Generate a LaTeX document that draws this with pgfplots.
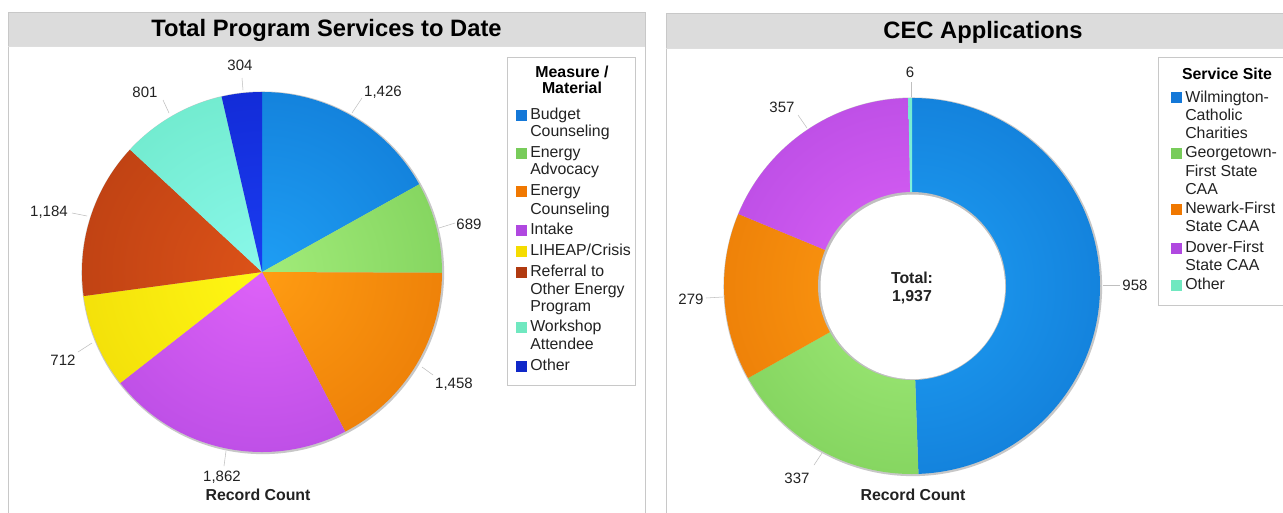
\documentclass[border=0pt]{standalone}
\usepackage{pgfplots}
\pgfplotsset{compat=1.18}
\usepackage{fontspec}
\setmainfont{Liberation Sans}

% slice colours: inner (light) / outer (dark) / legend swatch
\definecolor{bdI}{HTML}{1E9EF4}\definecolor{bdO}{HTML}{0A68C6}\definecolor{bdL}{HTML}{1478D8}
\definecolor{adI}{HTML}{A2EC7A}\definecolor{adO}{HTML}{6AC048}\definecolor{adL}{HTML}{78CC5A}
\definecolor{ecI}{HTML}{FF9C12}\definecolor{ecO}{HTML}{DE6800}\definecolor{ecL}{HTML}{F07800}
\definecolor{inI}{HTML}{DE62F8}\definecolor{inO}{HTML}{A03ED6}\definecolor{inL}{HTML}{B048E0}
\definecolor{liI}{HTML}{FFF814}\definecolor{liO}{HTML}{E8CA00}\definecolor{liL}{HTML}{F5DC00}
\definecolor{reI}{HTML}{DC5218}\definecolor{reO}{HTML}{A6340F}\definecolor{reL}{HTML}{B03A10}
\definecolor{woI}{HTML}{8AF8EA}\definecolor{woO}{HTML}{5CDFB6}\definecolor{woL}{HTML}{70E8C0}
\definecolor{otI}{HTML}{1A3CF2}\definecolor{otO}{HTML}{0C1CBE}\definecolor{otL}{HTML}{1028C8}
\definecolor{hdr}{HTML}{DCDCDC}
\definecolor{brd}{HTML}{C8C8C8}
\definecolor{txt}{HTML}{222222}

% #1 inner colour, #2 outer colour, #3 from (cumulative), #4 to (cumulative), #5 total, #6 radius
\newcommand\pieslice[6]{%
  \begin{scope}
    \clip (axis cs:0,0) -- ++({90-360*(#3/#5)}:#6) arc[start angle={90-360*(#3/#5)}, end angle={90-360*(#4/#5)}, radius=#6] -- cycle;
    \shade[inner color=#1, outer color=#2] (axis cs:0,0) circle[radius=2*#6];
  \end{scope}}

\newcommand\lab{\fontsize{11.25}{13}\selectfont\color{txt}}
\newcommand\leg{\fontsize{11.9}{13}\selectfont\color{txt}}
\newcommand\bld{\bfseries\fontsize{11.9}{13}\selectfont}

\begin{document}
\begin{tikzpicture}[x=0.75pt,y=-0.75pt]
\useasboundingbox (0,0) rectangle (1283,512);
\clip (0,0) rectangle (1283,512);
\fill[white] (0,0) rectangle (1283,512);

% ---------- panels ----------
\fill[hdr] (8,12) rectangle (645,46);
\draw[brd] (8,520) -- (8,12) -- (645,12) -- (645,520);
\draw[brd!60] (8,46) -- (645,46);
\node[font=\bfseries\fontsize{17.8}{20}\selectfont, text=black] at (326.5,30) {Total Program Services to Date};

\fill[hdr] (666,13) rectangle (1300,48);
\draw[brd] (666,520) -- (666,13) -- (1300,13);
\draw[brd!60] (666,48) -- (1300,48);
\node[font=\bfseries\fontsize{17.8}{20}\selectfont, text=black] at (983,32) {CEC Applications};

% ---------- left pie (centre at pixel 262,272) ----------
\begin{axis}[at={(196.5pt,-204pt)}, anchor=center, hide axis, scale only axis,
  x=0.75pt, y=0.75pt, xmin=-230, xmax=230, ymin=-230, ymax=230, clip=false]
  \fill[black!22] (axis cs:0.8,-0.8) circle[radius=136pt];
  \pieslice{bdI}{bdO}{0}{1426}{8436}{135pt}
  \pieslice{adI}{adO}{1426}{2115}{8436}{135pt}
  \pieslice{ecI}{ecO}{2115}{3573}{8436}{135pt}
  \pieslice{inI}{inO}{3573}{5435}{8436}{135pt}
  \pieslice{liI}{liO}{5435}{6147}{8436}{135pt}
  \pieslice{reI}{reO}{6147}{7331}{8436}{135pt}
  \pieslice{woI}{woO}{7331}{8132}{8436}{135pt}
  \pieslice{otI}{otO}{8132}{8436}{8436}{135pt}
  % leader lines and labels
  \draw[black!25] (axis cs:-20,194) -- (axis cs:-19,182);
  \node[font=\lab] at (axis cs:-22,207) {304};
  \draw[black!25] (axis cs:-99,172) -- (axis cs:-93,159);
  \node[font=\lab] at (axis cs:-117,180) {801};
  \draw[black!25] (axis cs:100,174) -- (axis cs:90,159);
  \node[font=\lab] at (axis cs:121,180) {1,426};
  \draw[black!25] (axis cs:177,44) -- (axis cs:193,49);
  \node[font=\lab] at (axis cs:207,48) {689};
  \draw[black!25] (axis cs:-190,59) -- (axis cs:-175,56);
  \node[font=\lab] at (axis cs:-213,60) {1,184};
  \draw[black!25] (axis cs:-184,-80) -- (axis cs:-170,-71);
  \node[font=\lab] at (axis cs:-199,-88) {712};
  \draw[black!25] (axis cs:160,-95) -- (axis cs:171,-103);
  \node[font=\lab] at (axis cs:192,-112) {1,458};
  \draw[black!25] (axis cs:-36,-179) -- (axis cs:-38,-194);
  \node[font=\lab] at (axis cs:-40,-205) {1,862};
  \node[font=\bld, text=txt] at (axis cs:-4,-223) {Record Count};
\end{axis}

% ---------- right donut (centre at pixel 912,286) ----------
\begin{axis}[at={(684pt,-214.5pt)}, anchor=center, hide axis, scale only axis,
  x=0.75pt, y=0.75pt, xmin=-240, xmax=240, ymin=-240, ymax=240, clip=false]
  \fill[black!22] (axis cs:0.8,-0.8) circle[radius=142pt];
  \pieslice{bdI}{bdO}{0}{958}{1937}{141pt}
  \pieslice{adI}{adO}{958}{1295}{1937}{141pt}
  \pieslice{ecI}{ecO}{1295}{1574}{1937}{141pt}
  \pieslice{inI}{inO}{1574}{1931}{1937}{141pt}
  \pieslice{woI}{woO}{1931}{1937}{1937}{141pt}
  \fill[black!25] (axis cs:0,0) circle[radius=70.5pt];
  \fill[white] (axis cs:0.8,-0.8) circle[radius=69.2pt];
  \node[font=\bld, text=txt, align=center] at (axis cs:0,-2) {Total:\\1,937};
  % leader lines and labels
  \draw[black!25] (axis cs:-1,204) -- (axis cs:-1,189);
  \node[font=\lab] at (axis cs:-2,214) {6};
  \draw[black!25] (axis cs:-114,171) -- (axis cs:-105,158);
  \node[font=\lab] at (axis cs:-130,179) {357};
  \draw[black!25] (axis cs:-206,-12) -- (axis cs:-189,-11);
  \node[font=\lab] at (axis cs:-221,-13) {279};
  \draw[black!25] (axis cs:191,1) -- (axis cs:208,1);
  \node[font=\lab] at (axis cs:223,1) {958};
  \draw[black!25] (axis cs:-98,-179) -- (axis cs:-90,-167);
  \node[font=\lab] at (axis cs:-115,-192) {337};
  \node[font=\bld, text=txt] at (axis cs:1,-209) {Record Count};
\end{axis}

% ---------- left legend ----------
\draw[brd, fill=white] (507.5,57.5) rectangle (635.5,385.5);
\node[font=\bld, text=black] at (572,72) {Measure /};
\node[font=\bld, text=black] at (572,88) {Material};
\foreach \c/\y in {bdL/115, adL/153, ecL/191.5, inL/230, liL/251.5, reL/272.5, woL/327, otL/366}
  \fill[\c] (516,\y-5.5) rectangle (527,\y+5.5);
\foreach \t/\y in {Budget/115.5, Counseling/132, Energy/153, Advocacy/170.5, Energy/191.5, Counseling/210,
  Intake/230, {LIHEAP/Crisis}/251.5, Referral to/272.5, Other Energy/290, Program/307, Workshop/327,
  Attendee/345, Other/366}
  \node[font=\leg, anchor=west, inner sep=0pt, text height=8.5pt, text depth=2.3pt] at (530,\y) {\t};

% ---------- right legend ----------
\draw[brd, fill=white] (1158.5,57.5) rectangle (1300,305.5);
\node[font=\bld, text=black] at (1227,74) {Service Site};
\foreach \c/\y in {bdL/97.5, adL/153.5, ecL/209.5, inL/248, woL/285.5}
  \fill[\c] (1171,\y-5.5) rectangle (1182,\y+5.5);
\foreach \t/\y in {Wilmington-/98, Catholic/116, Charities/134, Georgetown-/153.5, First State/172, CAA/190,
  Newark-First/209.5, State CAA/227.5, Dover-First/248, State CAA/266, Other/285.5}
  \node[font=\leg, anchor=west, inner sep=0pt, text height=8.5pt, text depth=2.3pt] at (1185,\y) {\t};
\end{tikzpicture}
\end{document}
